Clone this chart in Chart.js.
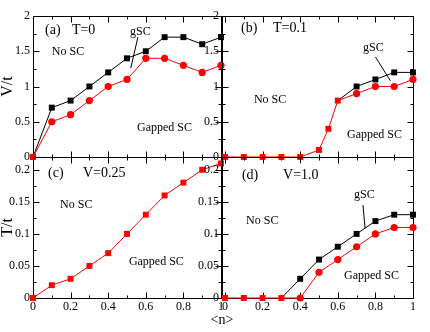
<!DOCTYPE html>
<html>
<head>
<meta charset="utf-8">
<title>Phase diagrams</title>
<script src="https://cdn.jsdelivr.net/npm/chart.js@4/dist/chart.umd.min.js"></script>
<style>
  body { margin: 0; background: #fff; }
  #wrap { position: relative; width: 430px; height: 332px; }
  #wrap canvas { position: absolute; left: 0; top: 0; }
</style>
</head>
<body>
<div id="wrap">
  <canvas id="pa" width="430" height="332"></canvas>
  <canvas id="pc" width="430" height="332"></canvas>
  <canvas id="pb" width="430" height="332"></canvas>
  <canvas id="pd" width="430" height="332"></canvas>
</div>
<script>
// --- data ---
const nAll = [0, 0.1, 0.2, 0.3, 0.4, 0.5, 0.6, 0.7, 0.8, 0.9, 1];

// (a) T=0 : V/t
const aGsc = [0, 0.7, 0.8, 1.0, 1.2, 1.4, 1.5, 1.7, 1.7, 1.6, 1.7];
const aGap = [0, 0.5, 0.6, 0.8, 1.0, 1.1, 1.4, 1.4, 1.3, 1.2, 1.3];

// (b) T=0.1 : V/t
const bN = [0, 0.1, 0.2, 0.3, 0.4, 0.5, 0.55, 0.6, 0.7, 0.8, 0.9, 1];
const bGap = [0, 0, 0, 0, 0, 0.1, 0.4, 0.8, 0.9, 1.0, 1.0, 1.1];
const bGscN = [0.6, 0.7, 0.8, 0.9, 1];
const bGsc = [0.8, 1.0, 1.1, 1.2, 1.2];

// (c) V=0.25 : T/t
const cTc = [0, 0.02, 0.03, 0.05, 0.07, 0.1, 0.13, 0.16, 0.18, 0.2, 0.21];

// (d) V=1.0 : T/t
const dGscN = [0.3, 0.4, 0.5, 0.6, 0.7, 0.8, 0.9, 1];
const dGsc = [0, 0.03, 0.06, 0.08, 0.1, 0.12, 0.13, 0.13];
const dGap = [0, 0, 0, 0, 0, 0.04, 0.06, 0.08, 0.1, 0.11, 0.11];

// tick labels
const nTicks = [0, 0.2, 0.4, 0.6, 0.8, 1];
const vTicks = [0, 0.5, 1, 1.5, 2];
const tTicks = [0, 0.05, 0.1, 0.15, 0.2];

// --- styling / layout ---
Chart.defaults.font.family = "'Liberation Serif', 'Times New Roman', serif";
Chart.defaults.color = '#000';
const SERIF = "'Liberation Serif', 'Times New Roman', serif";
const W = 430, H = 332;
const RED = '#ff0000';

function pts(xs, ys) { return xs.map((x, i) => ({ x: x, y: ys[i] })); }

// square where the curves coincide, circle elsewhere
function styleUpTo(xs, lim) { return xs.map(x => x <= lim ? 'rect' : 'circle'); }
function radiusUpTo(xs, lim) { return xs.map(x => x <= lim ? 4.2 : 3.6); }

function blackSet(xs, ys, hideFirst) {
    return {
        data: pts(xs, ys), borderColor: '#000', backgroundColor: '#000', borderWidth: 1,
        pointStyle: 'rect', pointRadius: xs.map((x, i) => (hideFirst && i === 0) ? 0 : 4.2),
        pointBorderWidth: 0, clip: false, order: 2
    };
}
function redSet(xs, ys, style, radius) {
    return {
        data: pts(xs, ys), borderColor: RED, backgroundColor: RED, borderWidth: 1,
        pointStyle: style, pointRadius: radius, pointBorderWidth: 0, clip: false, order: 1
    };
}

// frame, inward ticks and text notes
function makeDeco(p) {
    return {
        id: 'deco',
        beforeDatasetsDraw(chart) {
            const { ctx, chartArea: a } = chart;
            const x = chart.scales.x, y = chart.scales.y;
            ctx.save();
            ctx.strokeStyle = '#000';
            ctx.lineWidth = 1;
            const L = Math.round(a.left) + 0.5, R = Math.round(a.right) + 0.5;
            const T = Math.round(a.top) + 0.5, B = Math.round(a.bottom) + 0.5;
            ctx.strokeRect(L, T, R - L, B - T);
            ctx.beginPath();
            const xTick = (v, len) => {
                const px = Math.round(x.getPixelForValue(v)) + 0.5;
                ctx.moveTo(px, B); ctx.lineTo(px, B - len);
                ctx.moveTo(px, T); ctx.lineTo(px, T + len);
            };
            const yTick = (v, len) => {
                const py = Math.round(y.getPixelForValue(v)) + 0.5;
                ctx.moveTo(L, py); ctx.lineTo(L + len, py);
                ctx.moveTo(R, py); ctx.lineTo(R - len, py);
            };
            nTicks.forEach((v, i) => {
                xTick(v, 6);
                if (i < nTicks.length - 1) xTick((v + nTicks[i + 1]) / 2, 3);
            });
            p.yTicks.forEach((v, i) => {
                yTick(v, 6);
                if (i < p.yTicks.length - 1) yTick((v + p.yTicks[i + 1]) / 2, 3);
            });
            ctx.stroke();
            ctx.restore();
        },
        afterDatasetsDraw(chart) {
            const { ctx } = chart;
            const x = chart.scales.x, y = chart.scales.y;
            ctx.save();
            ctx.fillStyle = '#000';
            ctx.textBaseline = 'middle';
            ctx.textAlign = 'left';
            p.notes.forEach(n => {
                ctx.font = n.size + 'px ' + SERIF;
                ctx.fillText(n.text, x.getPixelForValue(n.x), y.getPixelForValue(n.y));
            });
            ctx.strokeStyle = '#000';
            ctx.lineWidth = 1;
            (p.leaders || []).forEach(l => {
                ctx.beginPath();
                ctx.moveTo(x.getPixelForValue(l[0]), y.getPixelForValue(l[1]));
                ctx.lineTo(x.getPixelForValue(l[2]), y.getPixelForValue(l[3]));
                ctx.stroke();
            });
            if (p.xTitle) {
                ctx.font = '14px ' + SERIF;
                ctx.textAlign = 'center';
                ctx.fillText(p.xTitle, x.getPixelForValue(1) + 1, chart.chartArea.bottom + 22);
            }
            ctx.restore();
        }
    };
}

function makePanel(id, p) {
    const area = p.area;
    new Chart(document.getElementById(id), {
        type: 'line',
        data: { datasets: p.datasets },
        plugins: [makeDeco(p)],
        options: {
            responsive: false,
            animation: false,
            events: [],
            devicePixelRatio: 1,
            layout: {
                padding: {
                    left: 0,
                    top: area.top,
                    right: W - area.right,
                    bottom: p.showX ? 0 : H - area.bottom
                }
            },
            plugins: { legend: { display: false }, tooltip: { enabled: false } },
            scales: {
                x: {
                    type: 'linear', min: p.xMin, max: 1,
                    grid: { display: false, drawTicks: false }, border: { display: false },
                    afterBuildTicks: s => { s.ticks = nTicks.map(v => ({ value: v })); },
                    afterFit: s => { s.height = p.showX ? H - area.bottom : 0; },
                    ticks: {
                        display: p.showX, autoSkip: false, maxRotation: 0, padding: 2,
                        font: { size: 12 }, callback: v => String(v)
                    }
                },
                y: {
                    type: 'linear', min: 0, max: p.yMax,
                    grid: { display: false, drawTicks: false }, border: { display: false },
                    afterBuildTicks: s => { s.ticks = p.yTicks.map(v => ({ value: v })); },
                    afterFit: s => { s.width = area.left; },
                    ticks: { autoSkip: false, padding: 3, font: { size: 12 }, callback: v => String(v) },
                    title: {
                        display: !!p.yTitle, text: p.yTitle || '',
                        font: { size: 16, lineHeight: 1 }, padding: 0
                    }
                }
            }
        }
    });
}

const leftX = 0, rightX = -0.016;

// (a)
makePanel('pa', {
    area: { left: 33, right: 221, top: 16, bottom: 157 },
    xMin: leftX, yMax: 2, yTicks: vTicks, yTitle: 'V/t', showX: false,
    datasets: [
        blackSet(nAll, aGsc, false),
        redSet(nAll, aGap, styleUpTo(nAll, 0), radiusUpTo(nAll, 0))
    ],
    notes: [
        { text: '(a)', x: 0.064, y: 1.80, size: 14 },
        { text: 'T=0', x: 0.207, y: 1.80, size: 14 },
        { text: 'No SC', x: 0.10, y: 1.49, size: 12 },
        { text: 'gSC', x: 0.516, y: 1.77, size: 12 },
        { text: 'Gapped SC', x: 0.553, y: 0.41, size: 12 }
    ],
    leaders: [[0.558, 1.70, 0.52, 1.26]]
});

// (c)
makePanel('pc', {
    area: { left: 33, right: 221, top: 157, bottom: 298 },
    xMin: leftX, yMax: 0.22, yTicks: tTicks, yTitle: 'T/t', showX: true, xTitle: '<n>',
    datasets: [
        redSet(nAll, cTc, 'rect', 4.2)
    ],
    notes: [
        { text: '(c)', x: 0.08, y: 0.195, size: 14 },
        { text: 'V=0.25', x: 0.266, y: 0.195, size: 14 },
        { text: 'No SC', x: 0.144, y: 0.145, size: 12 },
        { text: 'Gapped SC', x: 0.51, y: 0.056, size: 12 }
    ]
});

// (b)
makePanel('pb', {
    area: { left: 222, right: 413, top: 16, bottom: 157 },
    xMin: rightX, yMax: 2, yTicks: vTicks, showX: false,
    datasets: [
        blackSet(bGscN, bGsc, true),
        redSet(bN, bGap, styleUpTo(bN, 0.6), radiusUpTo(bN, 0.6))
    ],
    notes: [
        { text: '(b)', x: 0.085, y: 1.83, size: 14 },
        { text: 'T=0.1', x: 0.255, y: 1.83, size: 14 },
        { text: 'gSC', x: 0.734, y: 1.55, size: 12 },
        { text: 'No SC', x: 0.154, y: 0.81, size: 12 },
        { text: 'Gapped SC', x: 0.649, y: 0.31, size: 12 }
    ],
    leaders: [[0.80, 1.42, 0.88, 1.08]]
});

// (d)
makePanel('pd', {
    area: { left: 222, right: 413, top: 157, bottom: 298 },
    xMin: rightX, yMax: 0.22, yTicks: tTicks, showX: true,
    datasets: [
        blackSet(dGscN, dGsc, true),
        redSet(nAll, dGap, styleUpTo(nAll, 0.3), radiusUpTo(nAll, 0.3))
    ],
    notes: [
        { text: '(d)', x: 0.09, y: 0.192, size: 14 },
        { text: 'V=1.0', x: 0.309, y: 0.192, size: 14 },
        { text: 'gSC', x: 0.686, y: 0.161, size: 12 },
        { text: 'No SC', x: 0.112, y: 0.12, size: 12 },
        { text: 'Gapped SC', x: 0.633, y: 0.034, size: 12 }
    ],
    leaders: [[0.734, 0.145, 0.745, 0.109]]
});
</script>
</body>
</html>
